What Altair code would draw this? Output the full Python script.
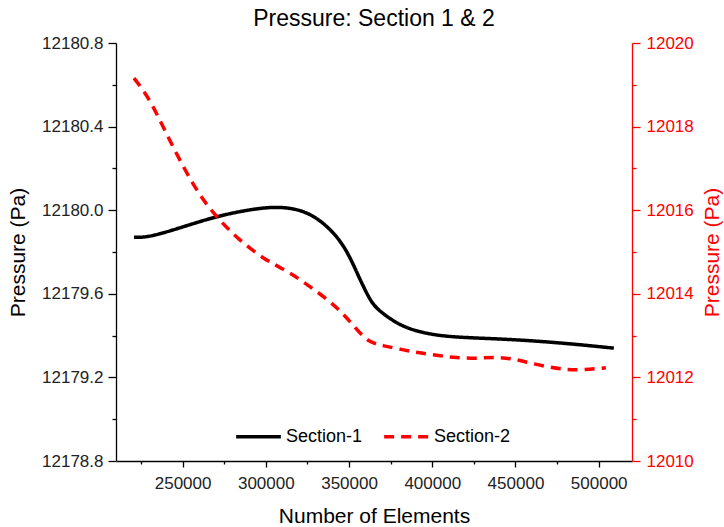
import altair as alt
import pandas as pd

# Section-1 (left axis)
s1_x = [220800, 229800, 250200, 270060, 288080, 306100, 324100, 337900, 348100, 355900,
        361950, 366200, 376400, 386000, 402200, 420200, 444200, 464000, 484500, 509100]
s1_y = [12179.87, 12179.87, 12179.92, 12179.97, 12180.00, 12180.02, 12180.00, 12179.92,
        12179.82, 12179.68, 12179.58, 12179.53, 12179.47, 12179.43, 12179.40, 12179.39,
        12179.383, 12179.373, 12179.36, 12179.34]

# Section-2 (right axis)
s2_x = [220800, 229800, 240000, 250200, 259800, 270060, 283900, 300100, 310300, 319900,
        328300, 337900, 346300, 354100, 361950, 370400, 382400, 392000, 404000, 414200,
        426200, 437000, 448400, 458000, 469500, 480300, 491100, 504300]
s2_y = [12019.16, 12018.70, 12017.85, 12017.05, 12016.38, 12015.85, 12015.28, 12014.80,
        12014.60, 12014.36, 12014.12, 12013.84, 12013.53, 12013.17, 12012.83, 12012.76,
        12012.66, 12012.59, 12012.52, 12012.47, 12012.45, 12012.49, 12012.45, 12012.35,
        12012.25, 12012.18, 12012.18, 12012.23]

series_names = ["Section-1", "Section-2"]
x_ticks = [225000, 250000, 275000, 300000, 325000, 350000, 375000, 400000, 425000,
           450000, 475000, 500000]
left_ticks = [12178.8, 12179.0, 12179.2, 12179.4, 12179.6, 12179.8, 12180.0, 12180.2,
              12180.4, 12180.6, 12180.8]
right_ticks = [12010, 12011, 12012, 12013, 12014, 12015, 12016, 12017, 12018, 12019, 12020]

df1 = pd.DataFrame({"x": s1_x, "p": s1_y, "series": series_names[0]})
df2 = pd.DataFrame({"x": s2_x, "p": s2_y, "series": series_names[1]})

RED = "#ff0000"
FONT = "Liberation Sans"
H = 418

x_enc = alt.X(
    "x:Q",
    scale=alt.Scale(domain=[210000, 520000], nice=False, zero=False),
    axis=alt.Axis(
        values=x_ticks,
        title="Number of Elements",
        labelExpr="datum.value % 50000 === 0 ? format(datum.value, 'd') : ''",
        tickSize={"condition": {"test": "datum.value % 50000 === 0", "value": 6}, "value": 3},
        grid=False, domainColor="black", tickColor="black", labelColor="#222",
        titleColor="black",
        labelFontSize=17, titleFontSize=21, titleFontWeight="normal",
        labelPadding=8, titlePadding=14, domainWidth=1.3, tickWidth=1.3,
        labelFlush=False,
    ),
)

legend = alt.Legend(
    title=None, orient="none", legendX=118, legendY=369, direction="horizontal",
    symbolType="stroke", symbolSize=2000, symbolStrokeWidth=3.5, labelFontSize=18,
    labelColor="black", columnPadding=14, labelOffset=3,
)

color = alt.Color("series:N", scale=alt.Scale(domain=series_names, range=["black", RED]),
                  legend=legend)
dash = alt.StrokeDash("series:N",
                      scale=alt.Scale(domain=series_names, range=[[1, 0], [10, 7]]),
                      legend=legend)

left = alt.Chart(df1).mark_line(strokeWidth=3.5, interpolate="basis").encode(
    x=x_enc,
    y=alt.Y("p:Q", scale=alt.Scale(domain=[12178.8, 12180.8], nice=False, zero=False),
            axis=alt.Axis(
                orient="left", values=left_ticks, title="Pressure (Pa)",
                labelExpr="round(datum.value*10) % 4 === 0 ? format(datum.value, '.1f') : ''",
                tickSize={"condition": {"test": "round(datum.value*10) % 4 === 0", "value": 8}, "value": 4},
                grid=False, domainColor="black", tickColor="black", labelColor="#222",
                titleColor="black", labelFontSize=17, titleFontSize=21, titleFontWeight="normal",
                labelPadding=5, domainWidth=1.3, tickWidth=1.3,
                titleAngle=270, titleX=-98, titleY=H / 2, titleAlign="center",
                titleBaseline="middle",
            )),
    color=color,
    strokeDash=dash,
)

right = alt.Chart(df2).mark_line(strokeWidth=3.5, interpolate="basis").encode(
    x=x_enc,
    y=alt.Y("p:Q", scale=alt.Scale(domain=[12010, 12020], nice=False, zero=False),
            axis=alt.Axis(
                orient="right", values=right_ticks, title="Pressure (Pa)",
                labelExpr="round(datum.value) % 2 === 0 ? format(datum.value, 'd') : ''",
                tickSize={"condition": {"test": "round(datum.value) % 2 === 0", "value": 8}, "value": 4},
                grid=False, domainColor=RED, tickColor=RED, labelColor=RED,
                titleColor=RED, labelFontSize=17, titleFontSize=21, titleFontWeight="normal",
                labelPadding=6, domainWidth=1.3, tickWidth=1.3,
                titleAngle=270, titleX=80, titleY=H / 2, titleAlign="center",
                titleBaseline="middle",
            )),
    color=color,
    strokeDash=dash,
)

chart = alt.layer(left, right).resolve_scale(y="independent").properties(
    width=516, height=H,
    title=alt.TitleParams("Pressure: Section 1 & 2", fontSize=23, fontWeight="normal",
                          anchor="middle", font=FONT, color="black", offset=3),
    autosize=alt.AutoSizeParams(type="none"),
    padding={"left": 116, "top": 43, "right": 92, "bottom": 66},
).configure(font=FONT).configure_view(stroke=None).configure_axis(
    labelFont=FONT, titleFont=FONT
).configure_legend(labelFont=FONT)

chart.save("out.html", embed_options={"renderer": "svg", "actions": False})
